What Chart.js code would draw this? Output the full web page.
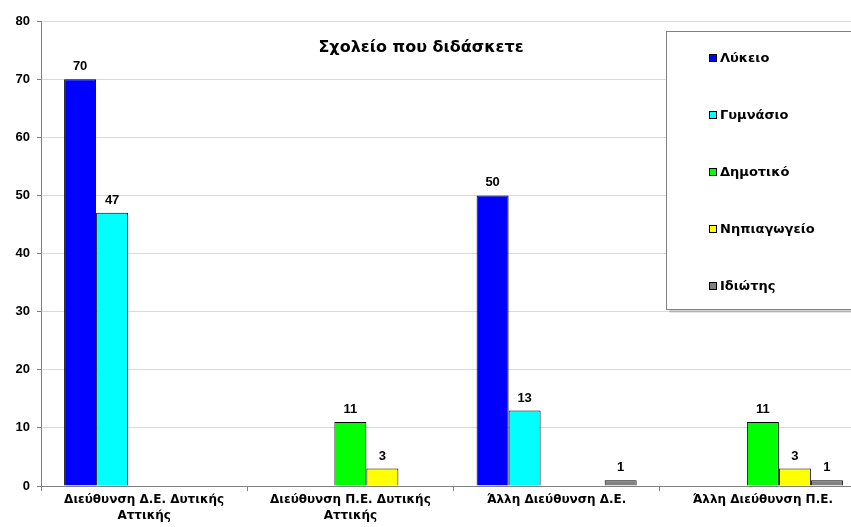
<!DOCTYPE html>
<html lang="el">
<head>
<meta charset="UTF-8">
<title>Σχολείο που διδάσκετε</title>
<script src="https://cdn.jsdelivr.net/npm/chart.js"></script>
<style>
  html, body { margin: 0; padding: 0; background: #fff; overflow: hidden; }
  #wrap { width: 851px; height: 527px; overflow: hidden; }
  canvas { display: block; }
</style>
</head>
<body>
<div id="wrap">
  <canvas id="chart" width="870" height="527"></canvas>
</div>
<script>
  const NUM_FONT = "'Liberation Sans', Arial, sans-serif";
  const TEXT_FONT = "'DejaVu Sans', Verdana, sans-serif";

  const chartTitle = 'Σχολείο που διδάσκετε';
  const categories = [
    ['Διεύθυνση Δ.Ε. Δυτικής', 'Αττικής'],
    ['Διεύθυνση Π.Ε. Δυτικής', 'Αττικής'],
    'Άλλη Διεύθυνση Δ.Ε.',
    'Άλλη Διεύθυνση Π.Ε.'
  ];
  const seriesNames = ['Λύκειο', 'Γυμνάσιο', 'Δημοτικό', 'Νηπιαγωγείο', 'Ιδιώτης'];
  const lykeio = [70, null, 50, null];
  const gymnasio = [47, null, 13, null];
  const dimotiko = [null, 11, null, 11];
  const nipiagogeio = [null, 3, null, 3];
  const idiotis = [null, null, 1, 1];
  const yTicks = [0, 10, 20, 30, 40, 50, 60, 70, 80];

  const colors = ['#0000ff', '#00ffff', '#00ff00', '#ffff00', '#808080'];
  const values = [lykeio, gymnasio, dimotiko, nipiagogeio, idiotis];

  // numbers above each bar
  const barLabels = {
    id: 'barLabels',
    afterDatasetsDraw(chart) {
      const ctx = chart.ctx;
      ctx.save();
      ctx.font = 'bold 13px ' + NUM_FONT;
      ctx.fillStyle = '#000';
      ctx.textAlign = 'center';
      ctx.textBaseline = 'bottom';
      chart.data.datasets.forEach((ds, i) => {
        chart.getDatasetMeta(i).data.forEach((bar, j) => {
          const v = ds.data[j];
          if (v === null || v === undefined) return;
          ctx.fillText(String(v), bar.x, bar.y - 6);
        });
      });
      ctx.restore();
    }
  };

  // title and boxed legend drawn inside the plot area
  const overlay = {
    id: 'overlay',
    afterDraw(chart) {
      const ctx = chart.ctx;
      ctx.save();
      ctx.font = 'bold 16px ' + TEXT_FONT;
      ctx.fillStyle = '#000';
      ctx.textAlign = 'center';
      ctx.textBaseline = 'middle';
      ctx.fillText(chartTitle, 421, 48);

      const bx = 666.5, by = 31.5, bw = 200, bh = 278;
      ctx.fillStyle = 'rgba(0,0,0,0.18)';
      ctx.fillRect(bx + 3, by + 3, bw, bh);
      ctx.fillStyle = '#fff';
      ctx.fillRect(bx, by, bw, bh);
      ctx.strokeStyle = '#808080';
      ctx.lineWidth = 1;
      ctx.strokeRect(bx, by, bw, bh);

      ctx.font = 'bold 13px ' + TEXT_FONT;
      ctx.textAlign = 'left';
      chart.data.datasets.forEach((ds, i) => {
        const cy = 58 + i * 57;
        ctx.fillStyle = ds.backgroundColor;
        ctx.fillRect(709.5, cy - 3.5, 7, 7);
        ctx.strokeStyle = '#000';
        ctx.strokeRect(709.5, cy - 3.5, 7, 7);
        ctx.fillStyle = '#000';
        ctx.fillText(ds.label, 720, cy + 1);
      });
      ctx.restore();
    }
  };

  new Chart(document.getElementById('chart'), {
    type: 'bar',
    data: {
      labels: categories,
      datasets: seriesNames.map((name, i) => ({
        label: name,
        data: values[i],
        backgroundColor: colors[i],
        borderColor: '#000',
        borderWidth: 1,
        categoryPercentage: 0.776,
        barPercentage: 1.0
      }))
    },
    options: {
      responsive: false,
      animation: false,
      layout: { padding: { top: 21, right: 4, left: 0, bottom: 0 } },
      plugins: {
        legend: { display: false },
        title: { display: false },
        tooltip: { enabled: false }
      },
      scales: {
        x: {
          afterFit(scale) { scale.height = 41; },
          grid: {
            offset: true,
            drawOnChartArea: false,
            drawTicks: true,
            tickLength: 5,
            color: '#808080'
          },
          border: { color: '#808080', width: 1 },
          ticks: {
            color: '#000',
            font: { family: TEXT_FONT, size: 12, weight: 'bold', lineHeight: 1.3 },
            padding: 1,
            maxRotation: 0,
            autoSkip: false
          }
        },
        y: {
          min: 0,
          max: 80,
          afterFit(scale) { scale.width = 41; },
          afterBuildTicks(scale) { scale.ticks = yTicks.map(v => ({ value: v })); },
          grid: {
            color: '#d9d9d9',
            tickLength: 4,
            tickColor: '#808080'
          },
          border: { color: '#808080', width: 1 },
          ticks: {
            color: '#000',
            font: { family: NUM_FONT, size: 13, weight: 'bold' },
            padding: 7
          }
        }
      }
    },
    plugins: [barLabels, overlay]
  });
</script>
</body>
</html>
